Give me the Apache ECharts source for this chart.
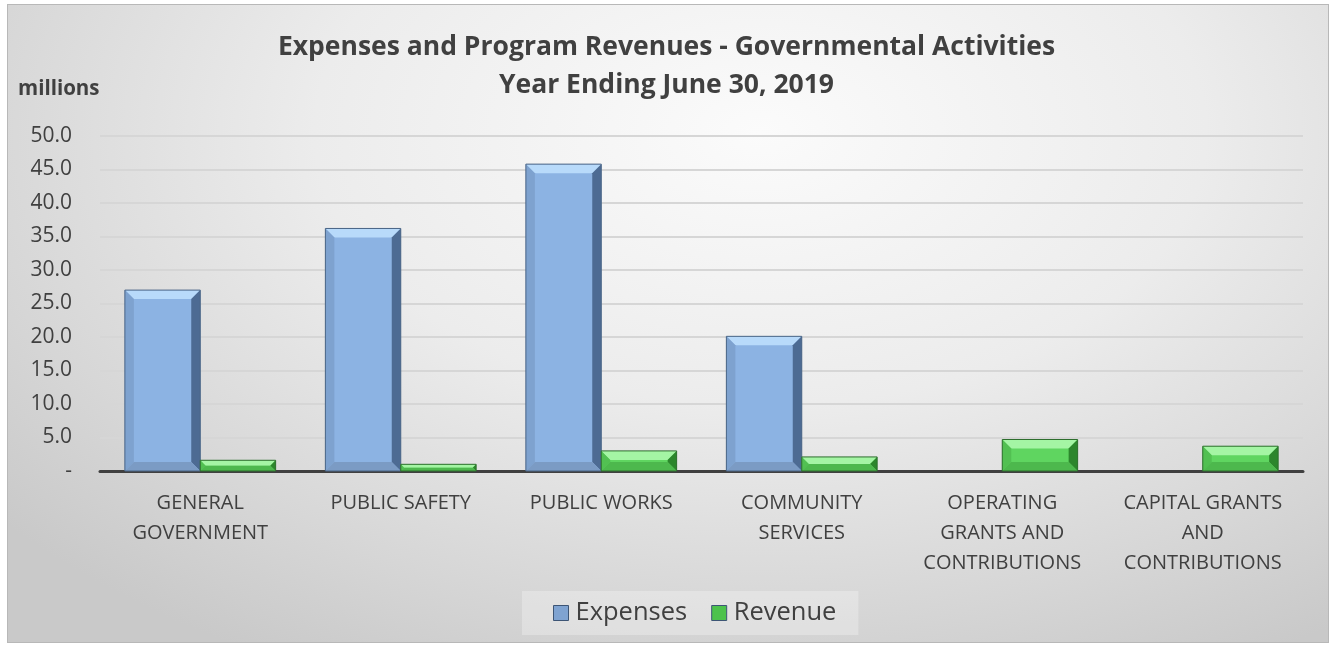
<!DOCTYPE html>
<html><head><meta charset="utf-8">
<script src="https://cdn.jsdelivr.net/npm/echarts@6/dist/echarts.min.js"></script>
<style>
html,body{margin:0;padding:0;background:#fff;}
#wrap{position:absolute;left:7px;top:4px;width:1320px;height:637px;border:1px solid #b8b8b8;
background:radial-gradient(ellipse 75% 95% at 57% 20%, #fbfbfb 0%, #ececec 45%, #d6d6d6 80%, #c9c9c9 100%);}
#chart{position:absolute;left:-8px;top:-5px;width:1333px;height:647px;}
</style></head>
<body><div id="wrap"><div id="chart"></div></div>
<script>
const categories = ['GENERAL\nGOVERNMENT','PUBLIC SAFETY','PUBLIC WORKS','COMMUNITY\nSERVICES','OPERATING\nGRANTS AND\nCONTRIBUTIONS','CAPITAL GRANTS\nAND\nCONTRIBUTIONS'];
const expenses = [27.0, 36.2, 45.8, 20.1, null, null];
const revenue = [1.6, 1.0, 3.0, 2.1, 4.7, 3.7];
const yTicks = [0, 5, 10, 15, 20, 25, 30, 35, 40, 45, 50];

const chart = echarts.init(document.getElementById('chart'), null, {renderer:'canvas'});

function bevelRender(pal, offsetSign){
  return function(params, api){
    const v = api.value(1);
    if (v == null || isNaN(v)) return;
    const base = api.coord([api.value(0), 0]);
    const top = api.coord([api.value(0), v]);
    const catW = api.size([1, 0])[0];
    const bw = catW * 0.376;
    const x0 = offsetSign < 0 ? base[0] - bw : base[0];
    const x1 = x0 + bw;
    const y0 = top[1], y1 = base[1];
    const h = y1 - y0;
    const b = Math.min(9, h / 2);
    return {type:'group', children:[
      {type:'rect', shape:{x:x0, y:y0, width:bw, height:h}, style:{fill:pal.face}},
      {type:'polygon', shape:{points:[[x0,y0],[x1,y0],[x1-b,y0+b],[x0+b,y0+b]]}, style:{fill:pal.top}},
      {type:'polygon', shape:{points:[[x0,y0],[x0+b,y0+b],[x0+b,y1-b],[x0,y1]]}, style:{fill:pal.left}},
      {type:'polygon', shape:{points:[[x1,y0],[x1,y1],[x1-b,y1-b],[x1-b,y0+b]]}, style:{fill:pal.right}},
      {type:'polygon', shape:{points:[[x0,y1],[x0+b,y1-b],[x1-b,y1-b],[x1,y1]]}, style:{fill:pal.bottom}},
      {type:'rect', shape:{x:x0, y:y0, width:bw, height:h}, style:{fill:'none', stroke:pal.edge, lineWidth:1}}
    ]};
  };
}
const bluePal = {face:'#8cb3e3', top:'#b8dafa', left:'#7ea2cf', right:'#4d6b93', bottom:'#7b9bc4', edge:'#4a6485'};
const greenPal = {face:'#5fd560', top:'#a4f5a4', left:'#52c052', right:'#2c862c', bottom:'#4db84d', edge:'#2e6e2e'};

chart.setOption({
  animation:false,
  backgroundColor:'transparent',
  title:{
    text:'Expenses and Program Revenues - Governmental Activities\nYear Ending June 30, 2019',
    left:'center', top:23,
    textStyle:{fontFamily:'Open Sans', fontSize:26.5, fontWeight:'bold', color:'#404040', lineHeight:38}
  },
  graphic:[{type:'text', left:18, top:79, style:{text:'millions', font:'bold 20.5px "Open Sans"', fill:'#404040'}}],
  legend:{
    data:['Expenses','Revenue'], bottom:12, left:522,
    icon:'rect', itemWidth:15, itemHeight:15, itemGap:24, itemStyle:{borderColor:'#3d5575', borderWidth:1},
    backgroundColor:'rgba(255,255,255,0.28)', padding:[9,22,9,31],
    textStyle:{fontFamily:'Open Sans', fontSize:25.5, color:'#404040', padding:[0,0,0,2]}
  },
  grid:{left:100, right:30, top:136, bottom:176},
  xAxis:{
    type:'category', data:categories,
    axisLine:{lineStyle:{color:'#404040', width:3}},
    axisTick:{show:false},
    axisLabel:{fontFamily:'Open Sans', fontSize:20, color:'#404040', lineHeight:30, margin:17, interval:0}
  },
  yAxis:{
    type:'value', min:0, max:50, interval:5,
    axisLine:{show:false}, axisTick:{show:false},
    splitLine:{lineStyle:{color:'#d6d6d6', width:2}},
    axisLabel:{fontFamily:'Open Sans', fontSize:21, color:'#404040', margin:28,
      formatter:function(v){return v===0?'-':v.toFixed(1);}}
  },
  series:[
    {name:'Expenses', type:'custom', itemStyle:{color:'#7fa3d1'},
      data: expenses.map((v,i)=>[i, v]), renderItem: bevelRender(bluePal, -1)},
    {name:'Revenue', type:'custom', itemStyle:{color:'#4cc24c'},
      data: revenue.map((v,i)=>[i, v]), renderItem: bevelRender(greenPal, 1)}
  ]
});
</script></body></html>
